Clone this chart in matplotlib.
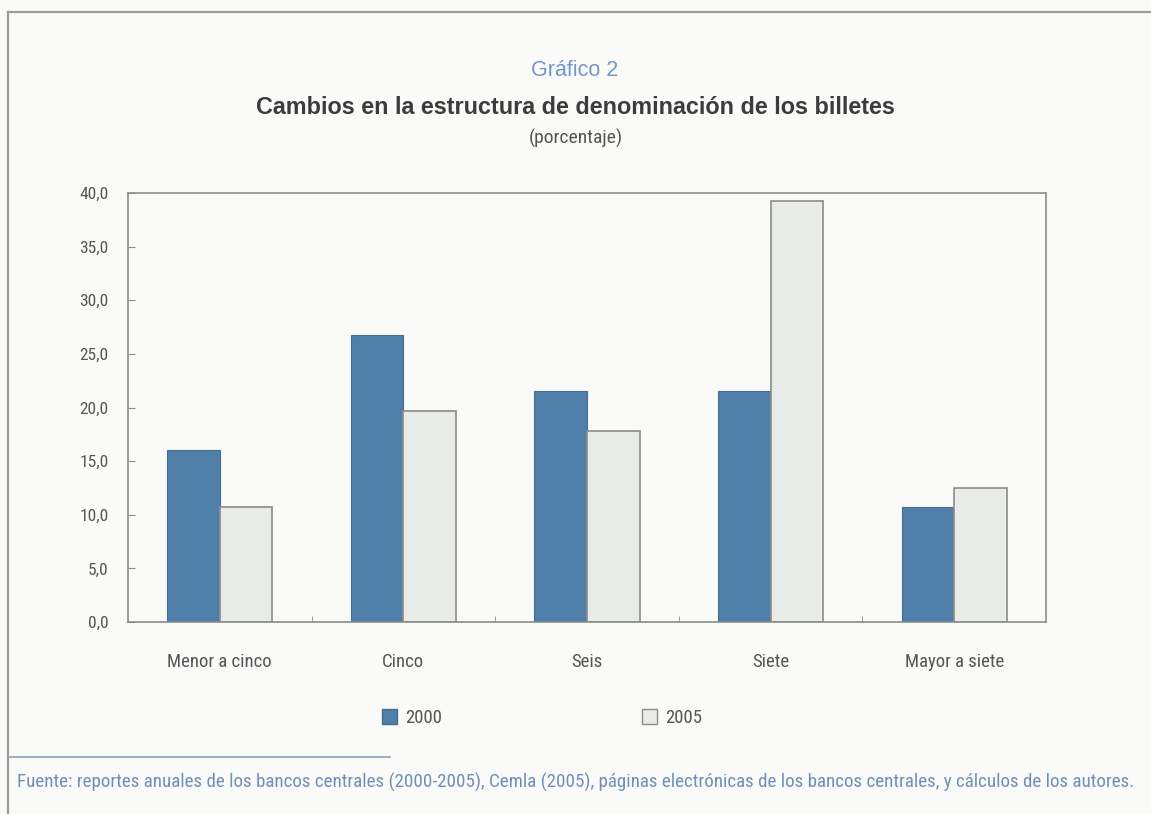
import matplotlib.pyplot as plt
import numpy as np
from matplotlib import font_manager as fm
from matplotlib.lines import Line2D
from matplotlib.patches import Patch
from matplotlib.ticker import FuncFormatter

categorias = ['Menor a cinco', 'Cinco', 'Seis', 'Siete', 'Mayor a siete']
valores_2000 = [16.0, 26.8, 21.5, 21.5, 10.7]
valores_2005 = [10.7, 19.7, 17.8, 39.3, 12.5]
anios = ['2000', '2005']

azul = '#4f7ea8'
gris_claro = '#e9ebe9'
borde = '#8a8c8a'
texto = '#555555'
fondo = '#fafbf8'


def fuente_estrecha():
    # busca una sans condensada instalada; si no hay, Liberation Sans
    orden = ['Roboto Condensed', 'Liberation Sans Narrow', 'Open Sans Condensed',
             'Noto Sans', 'DejaVu Sans', 'Roboto', 'Open Sans']
    cands = []
    for f in fm.fontManager.ttflist:
        nombre = f.name
        estrecha = (f.stretch in ('condensed', 'semi-condensed', 'extra-condensed')
                    or 'Narrow' in nombre or 'Condensed' in nombre)
        if estrecha and f.style == 'normal' and f.weight in (400, 'normal', 'regular'):
            rango = next((i for i, o in enumerate(orden) if nombre.startswith(o)), 99)
            cands.append((rango, f.fname))
    if cands:
        cands.sort()
        return fm.FontProperties(fname=cands[0][1])
    return fm.FontProperties(family='Liberation Sans')


base = fuente_estrecha()


def fp(size):
    p = base.copy()
    p.set_size(size)
    return p


fig = plt.figure(figsize=(11.51, 8.14), dpi=100)
fig.patch.set_facecolor(fondo)

ax = fig.add_axes([128 / 1151, 1 - 622 / 814, 918 / 1151, 429 / 814])
ax.set_facecolor(fondo)

x = np.arange(len(categorias))
ancho = 0.287
ax.bar(x - ancho / 2, valores_2000, ancho, color=azul, edgecolor='#456d92', linewidth=0.8)
ax.bar(x + ancho / 2, valores_2005, ancho, color=gris_claro, edgecolor=borde, linewidth=1.2)

ax.set_xlim(-0.5, len(categorias) - 0.5)
ax.set_ylim(0, 40)
ax.set_yticks(np.arange(0, 41, 5))
ax.yaxis.set_major_formatter(FuncFormatter(lambda v, p: f'{v:.1f}'.replace('.', ',')))
ax.set_xticks(x)
ax.set_xticklabels(categorias)
ax.set_xticks(x[:-1] + 0.5, minor=True)

ax.tick_params(axis='y', direction='in', length=5, color=borde, labelcolor=texto, pad=14)
ax.tick_params(axis='x', which='major', length=0, labelcolor=texto, pad=22)
ax.tick_params(axis='x', which='minor', direction='in', length=4, color=borde)
for lbl in ax.get_yticklabels():
    lbl.set_fontproperties(fp(12.5))
for lbl in ax.get_xticklabels():
    lbl.set_fontproperties(fp(13.5))
for s in ax.spines.values():
    s.set_color(borde)
    s.set_linewidth(1.2)

# marco exterior del recuadro
fig.add_artist(Line2D([8 / 1151, 1], [1 - 12 / 814] * 2, color='#9a9c9a', lw=1.6))
fig.add_artist(Line2D([8 / 1151] * 2, [0, 1 - 12 / 814], color='#9a9c9a', lw=1.6))
fig.add_artist(Line2D([8 / 1151, 390 / 1151], [1 - 757 / 814] * 2, color='#8f9fb8', lw=1.2))

fig.text(575 / 1151, 1 - 70 / 814, 'Gráfico 2', ha='center', va='center',
         fontsize=15.5, color='#7398c8', family=['Liberation Sans', 'DejaVu Sans'])
fig.text(575 / 1151, 1 - 107 / 814, 'Cambios en la estructura de denominación de los billetes',
         ha='center', va='center', fontsize=16.8, fontweight='bold', color='#3c3c3c',
         family=['Liberation Sans', 'DejaVu Sans'])
fig.text(576 / 1151, 1 - 138 / 814, '(porcentaje)', ha='center', va='center',
         fontproperties=fp(14), color=texto)

leyenda = [Patch(facecolor=azul, edgecolor='#456d92'),
           Patch(facecolor=gris_claro, edgecolor=borde)]
fig.legend(leyenda, anios, loc='center', bbox_to_anchor=(542 / 1151, 1 - 718 / 814),
           ncol=2, frameon=False, columnspacing=10.7, handlelength=0.8, handleheight=0.8,
           handletextpad=0.4, prop=fp(13.5), labelcolor=texto)

fig.text(576 / 1151, 1 - 782 / 814,
         'Fuente: reportes anuales de los bancos centrales (2000-2005), Cemla (2005), '
         'páginas electrónicas de los bancos centrales, y cálculos de los autores.',
         ha='center', va='center', fontproperties=fp(13.7), color='#6f8fb8')

fig.savefig('out.png', dpi=100, facecolor=fondo)
